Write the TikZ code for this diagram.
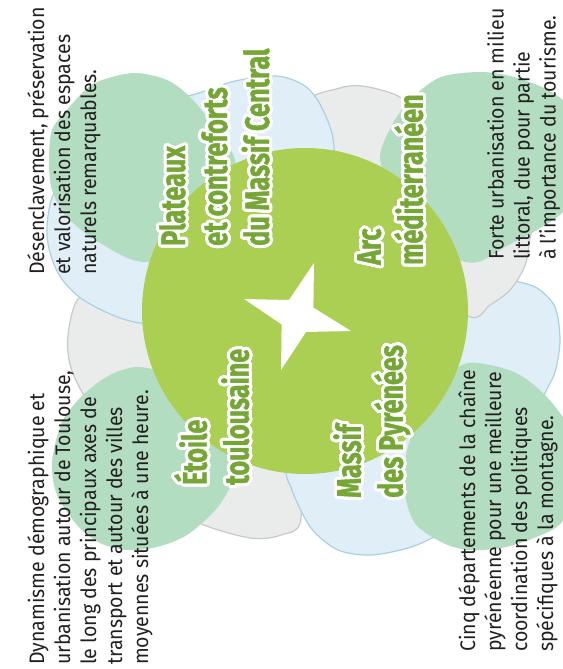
\documentclass[tikz,border=0pt]{standalone}
\usepackage{fontspec}
\usepackage{contour}
\newfontfamily\bodyfont{Fira Sans}[FakeStretch=0.93]
\newfontfamily\titlefont{Fira Sans}[FakeStretch=0.74,FakeBold=1.2]
\definecolor{leaf}{HTML}{B3DDC0}
\definecolor{sky}{HTML}{DFEEF7}
\definecolor{skyline}{HTML}{A9D1DF}
\definecolor{stone}{HTML}{EAEBEB}
\definecolor{stoneline}{HTML}{C8C9C9}
\definecolor{core}{HTML}{AACF53}
\definecolor{titlegreen}{HTML}{76A636}
\definecolor{ink}{HTML}{231F20}
\contourlength{3pt}
\contournumber{32}
\newcommand\halo[1]{\contour{white}{#1}}
\tikzset{
  bluepetal/.style={fill=sky,draw=skyline,line width=1.2pt},
  graypetal/.style={fill=stone,draw=stoneline,line width=1.2pt},
  greenpetal/.style={fill=leaf},
  region/.style={rotate=90,anchor=north west,inner sep=0pt,align=left,
    text=titlegreen,font=\titlefont\bfseries\fontsize{34}{42}\selectfont},
  blurb/.style={rotate=90,anchor=north west,inner sep=0pt,align=left,
    text=ink,font=\bodyfont\fontsize{21}{26}\selectfont}
}
\begin{document}
\begin{tikzpicture}[x=1pt,y=-1pt]
\useasboundingbox (0,0) rectangle (562,669);

% back petals, each one over the one before
\draw[graypetal] plot[smooth cycle] coordinates {(80,297) (68,335) (71,368) (90,405) (150,490) (197,522) (250,538) (281,535) (301,518) (290,420) (200,330) (120,300)};
\draw[bluepetal] plot[smooth cycle] coordinates {(290,465) (292,490) (311,528) (338,550) (371,555) (408,548) (438,535) (500,500) (541,402) (555,372) (560,340) (555,307) (537,288) (512,281) (481,283) (440,320) (350,420)};
\draw[graypetal] plot[smooth cycle] coordinates {(305,105) (340,88) (362,86) (391,93) (410,104) (470,150) (530,200) (529,245) (524,268) (510,290) (490,305) (468,316) (400,260) (330,170)};
\draw[bluepetal] plot[smooth cycle] coordinates {(140,323) (85,301) (58,273) (47,235) (55,190) (95,135) (150,103) (192,95) (235,81) (277,76) (305,86) (322,108) (334,147) (330,230) (230,320)};

% front petals
\fill[greenpetal] plot[smooth cycle] coordinates {(49,160) (52,130) (67,110) (93,84) (133,73) (167,80) (190,97) (213,125) (235,160) (240,230) (150,262) (100,243) (67,217) (52,190)};
\fill[greenpetal] plot[smooth cycle] coordinates {(455,258) (478,262) (505,247) (537,230) (562,213) (585,185) (590,150) (575,112) (548,90) (514,77) (481,72) (441,77) (412,98) (391,127) (381,165) (420,230)};
\fill[greenpetal] plot[smooth cycle] coordinates {(404,485) (410,440) (440,385) (468,363) (514,372) (545,395) (570,430) (580,480) (562,522) (534,538) (501,548) (468,550) (441,542) (414,522)};
\fill[greenpetal] plot[smooth cycle] coordinates {(175,380) (140,367) (110,375) (83,395) (62,422) (52,462) (57,495) (77,525) (100,543) (127,550) (157,547) (187,535) (217,508) (232,478) (225,430)};

% centre
\fill[core] (305,311) circle[radius=163pt];
\fill[white] (314,263) -- (313.4,307.6) -- (351,331) -- (306,332) -- (281,370)
  -- (281.6,324.4) -- (244,299) -- (289,300) -- cycle;

% regions
\node[region] (plateaux) at (159,246) {\halo{Plateaux}\\\halo{et contreforts}\\\halo{du Massif Central}};
\node[region] (arc) at (357,265) {\halo{Arc}\\\halo{méditerranéen}};
\node[region] (etoile) at (174,485) {\halo{Étoile}\\\halo{toulousaine}};
\node[region] (massif) at (333,498) {\halo{Massif}\\\halo{des Pyrénées}};

% remarks
\node[blurb] (enclave) at (27,275) {Désenclavement, préservation\\et valorisation des espaces\\naturels remarquables.};
\node[blurb] (littoral) at (487,260) {Forte urbanisation en milieu\\littoral, due pour partie\\à l’importance du tourisme.};
\node[blurb] (toulouse) at (27,665) {Dynamisme démographique et\\urbanisation autour de Toulouse,\\le long des principaux axes de\\transport et autour des villes\\moyennes situées à une heure.};
\node[blurb] (chaine) at (458,652) {Cinq départements de la chaîne\\pyrénéenne pour une meilleure\\coordination des politiques\\spécifiques à la montagne.};
\end{tikzpicture}
\end{document}
